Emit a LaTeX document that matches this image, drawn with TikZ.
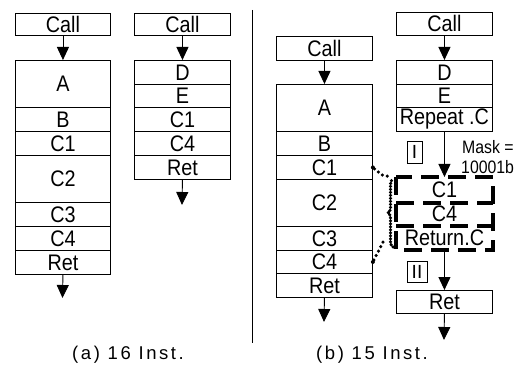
\documentclass[tikz,border=0pt]{standalone}
\usepackage{fontspec}
\setmainfont{Liberation Sans}
\newfontfamily\boxfont{Liberation Sans}[FakeStretch=0.88]
\newfontfamily\capfont{Liberation Sans}[LetterSpace=14]
\usetikzlibrary{arrows.meta,decorations.pathreplacing}
\tikzset{
 row/.style={draw, line width=0.9pt, minimum width=96pt, inner sep=0pt, anchor=north west, font=\boxfont\fontsize{22.5}{22.5}\selectfont},
 drow/.style={row, draw=none},
 arr/.style={line width=0.9pt, -{Triangle[width=12pt,length=13pt]}},
 plain/.style={line width=0.9pt},
 dashbox/.style={line width=3.2pt, dash pattern=on 18pt off 9pt},
 dotline/.style={line width=3.5pt, line cap=round, dash pattern=on 0pt off 5pt},
 braceline/.style={line width=3.5pt, line cap=round, dash pattern=on 0pt off 3pt},
 markbox/.style={draw, line width=0.9pt, inner sep=0pt, font=\fontsize{19}{19}\selectfont},
 dotnode/.style={circle, fill, inner sep=0pt, minimum size=4pt},
 lbl/.style={font=\capfont\fontsize{18.5}{18.5}\selectfont},
 masktxt/.style={anchor=west, font=\boxfont\fontsize{18}{18}\selectfont, inner sep=0pt}
}
\begin{document}
\begin{tikzpicture}[x=1pt,y=-1pt]
\useasboundingbox (0,0) rectangle (523,369);
% ---------- (a) column 1
\node[row, minimum width=95pt, minimum height=22pt] (a1call) at (15,13) {Call};
\node[row, minimum width=95pt, minimum height=47pt] (a1A) at (15,60) {A};
\node[row, minimum width=95pt, minimum height=24pt] (a1B) at (15,107) {B};
\node[row, minimum width=95pt, minimum height=24pt] (a1C1) at (15,131) {C1};
\node[row, minimum width=95pt, minimum height=47pt] (a1C2) at (15,155) {C2};
\node[row, minimum width=95pt, minimum height=24pt] (a1C3) at (15,202) {C3};
\node[row, minimum width=95pt, minimum height=24pt] (a1C4) at (15,226) {C4};
\node[row, minimum width=95pt, minimum height=24pt] (a1Ret) at (15,250) {Ret};
\coordinate (a1end) at (62.5,298);
\draw[arr] (a1call.south) -- (a1A.north);
\draw[arr] (a1Ret.south) -- (a1end);
% ---------- (a) column 2
\node[row, minimum height=22pt] (a2call) at (134,13) {Call};
\node[row, minimum height=24pt] (a2D) at (134,60) {D};
\node[row, minimum height=23pt] (a2E) at (134,84) {E};
\node[row, minimum height=24pt] (a2C1) at (134,107) {C1};
\node[row, minimum height=24pt] (a2C4) at (134,131) {C4};
\node[row, minimum height=24pt] (a2Ret) at (134,155) {Ret};
\coordinate (a2end) at (182,205);
\draw[arr] (a2call.south) -- (a2D.north);
\draw[arr] (a2Ret.south) -- (a2end);
% ---------- divider
\draw[plain] (252,10) -- (252,343);
% ---------- (b) column 1
\node[row, minimum height=24pt] (b1call) at (276,36) {Call};
\node[row, minimum height=47pt] (b1A) at (276,84) {A};
\node[row, minimum height=24pt] (b1B) at (276,131) {B};
\node[row, minimum height=24pt] (b1C1) at (276,155) {C1};
\node[row, minimum height=47pt] (b1C2) at (276,179) {C2};
\node[row, minimum height=24pt] (b1C3) at (276,226) {C3};
\node[row, minimum height=23pt] (b1C4) at (276,250) {C4};
\node[row, minimum height=24pt] (b1Ret) at (276,273) {Ret};
\coordinate (b1end) at (324,322);
\draw[arr] (b1call.south) -- (b1A.north);
\draw[arr] (b1Ret.south) -- (b1end);
% ---------- (b) column 2
\node[row, minimum height=23pt] (b2call) at (396,12) {Call};
\node[row, minimum height=24pt] (b2D) at (396,60) {D};
\node[row, minimum height=23pt] (b2E) at (396,84) {E};
\node[row, minimum height=24pt] (b2Rep) at (396,107) {Repeat .C};
\node[drow, minimum height=25pt] (dC1) at (396,177) {C1};
\node[drow, minimum height=23pt] (dC4) at (396,202) {C4};
\node[drow, minimum height=24pt] (dRet) at (396,225) {Return.C};
\node[row, minimum height=23pt] (b2Ret) at (396,290) {Ret};
\coordinate (b2end) at (444,340);
\draw[arr] (b2call.south) -- (b2D.north);
\draw[arr] (b2Rep.south) -- (dC1.north);
\draw[arr] (dRet.south) -- (b2Ret.north);
\draw[arr] (b2Ret.south) -- (b2end);
\draw[dashbox] (dC1.north west) rectangle (dRet.south east);
\draw[dashbox] (dC1.south west) -- (dC1.south east);
\draw[dashbox] (dC4.south west) -- (dC4.south east);
% marks
\node[markbox, minimum width=15pt, minimum height=22pt] (m1) at (414.5,152) {I};
\node[markbox, minimum width=20pt, minimum height=21pt] (m2) at (417,271.5) {II};
\node[masktxt] (mask1) at (462,147) {Mask =};
\node[masktxt] (mask2) at (461,167) {10001b};
% dotted mapping
\node[dotnode] (p1) at (b1C1.east) {};
\node[dotnode] (p2) at (b1C4.east) {};
\coordinate (q1) at (382,175);
\coordinate (q2) at (392,177);
\coordinate (q3) at (378,252);
\coordinate (q4) at (384,240);
\coordinate (br1) at (393,247);
\coordinate (br2) at (393,179);
\draw[dotline] (p1) -- (q1) -- (q2);
\draw[dotline] (p2) -- (q3) -- (q4);
\draw[braceline, decorate, decoration={brace, amplitude=5pt}] (br1) -- (br2);
% captions
\node[lbl] (capa) at (128,355) {(a) 16 Inst.};
\node[lbl] (capb) at (372,355) {(b) 15 Inst.};
\end{tikzpicture}
\end{document}
